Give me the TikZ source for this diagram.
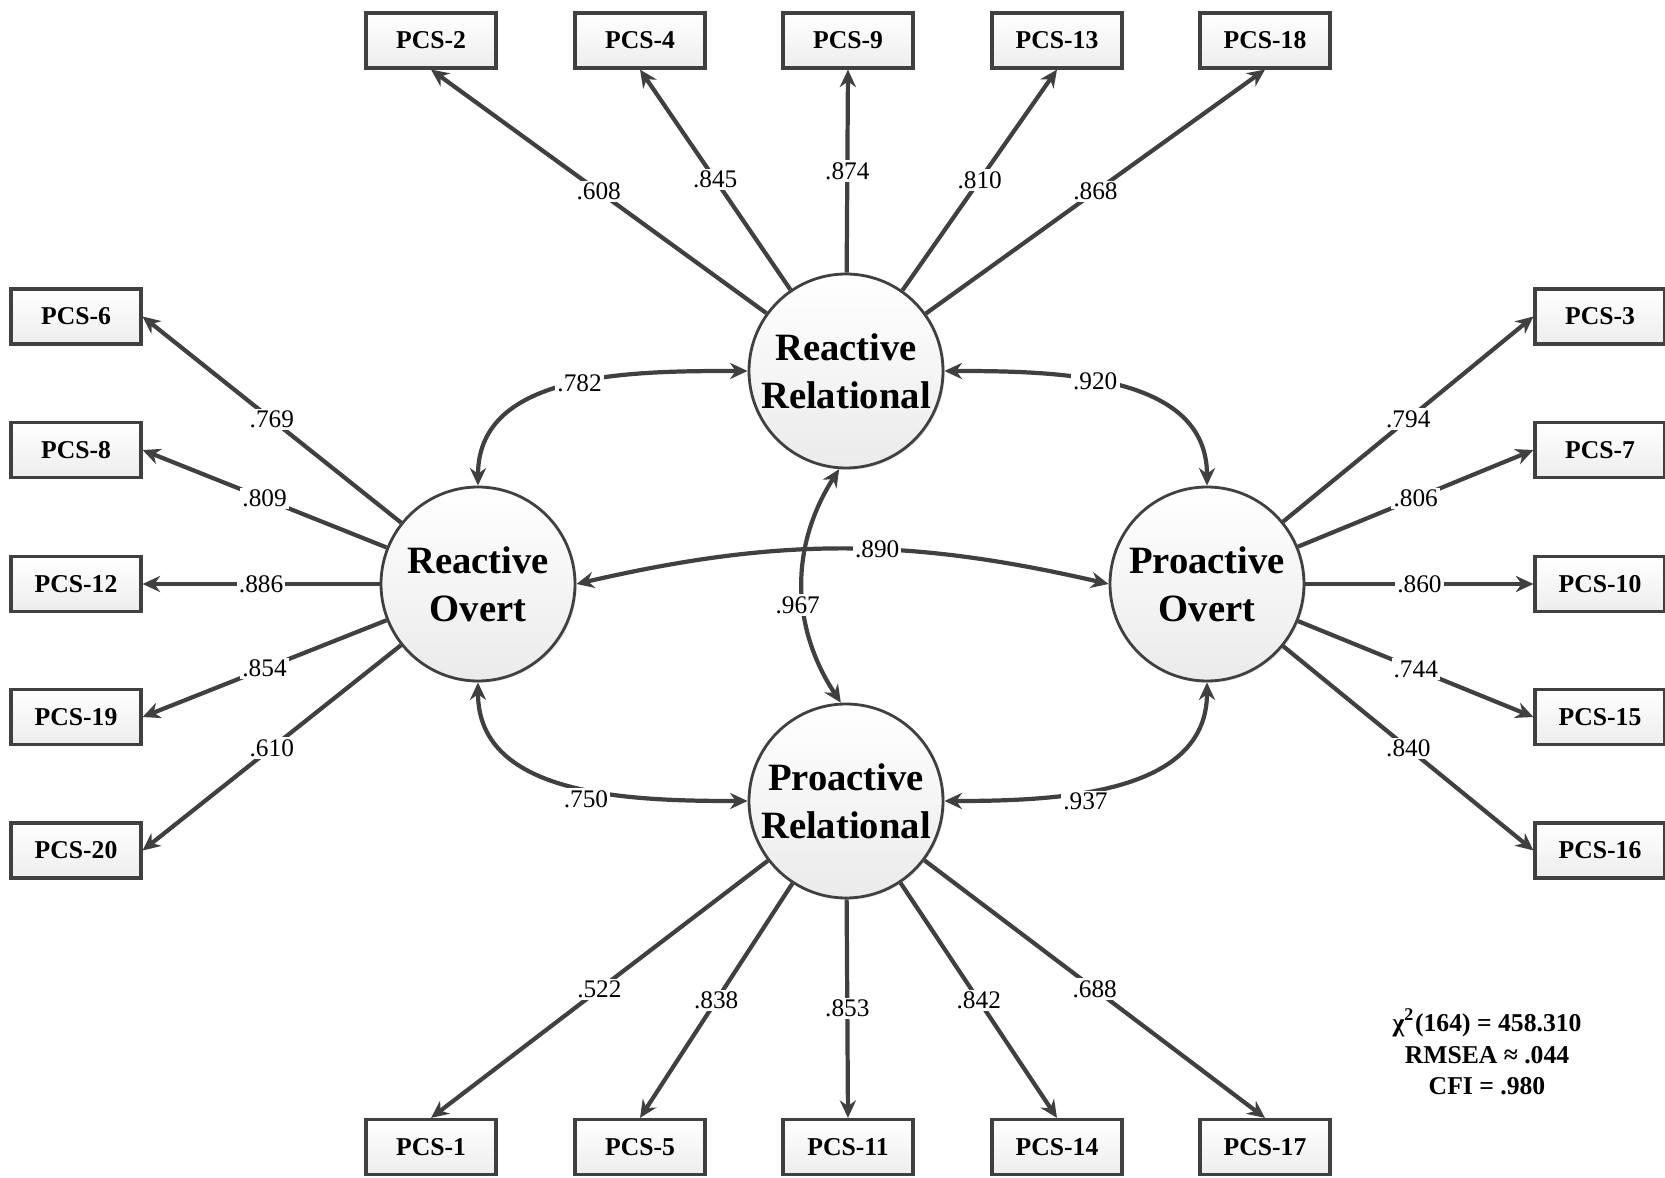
\documentclass[tikz,border=0pt]{standalone}
\usepackage{fontspec}
\setmainfont{Liberation Serif}
\usetikzlibrary{arrows.meta,shadows}
\definecolor{linegray}{HTML}{404040}

\begin{document}
\begin{tikzpicture}[
    item/.style={draw=linegray, line width=0.9pt, minimum width=1.3cm, minimum height=0.55cm,
        inner sep=0pt, top color=white, bottom color=gray!14,
        drop shadow={opacity=0.18, shadow xshift=0.5pt, shadow yshift=-0.5pt},
        font=\fontsize{7.3}{8}\selectfont\bfseries},
    factor/.style={circle, draw=linegray, line width=0.8pt, minimum size=1.94cm, inner sep=0pt,
        top color=white, bottom color=gray!16, align=center,
        drop shadow={opacity=0.18, shadow xshift=0.5pt, shadow yshift=-0.5pt},
        font=\fontsize{11}{13.6}\selectfont\bfseries},
    load/.style={draw=linegray, line width=1.2pt, -{Stealth[length=5pt,width=4.6pt]}},
    cov/.style={draw=linegray, line width=1.2pt, {Stealth[length=5pt,width=4.6pt]}-{Stealth[length=5pt,width=4.6pt]}},
    coef/.style={fill=white, inner sep=0.6pt, font=\fontsize{7.2}{8}\selectfont}]
    \useasboundingbox (0,0) rectangle (16.65,11.77);

    % --- Latent factors ---
    \node[factor] (rr) at (8.46, 8.06) {Reactive\\Relational};
    \node[factor] (ro) at (4.78, 5.93) {Reactive\\Overt};
    \node[factor] (po) at (12.07, 5.93) {Proactive\\Overt};
    \node[factor] (pr) at (8.46, 3.76) {Proactive\\Relational};

    % --- Indicators ---
    \foreach \n/\x in {2/4.31, 4/6.40, 9/8.48, 13/10.57, 18/12.65}
        \node[item] (p\n) at (\x, 11.365) {PCS-\n};
    \foreach \n/\x in {1/4.31, 5/6.40, 11/8.48, 14/10.57, 17/12.65}
        \node[item] (p\n) at (\x, 0.30) {PCS-\n};
    \foreach \n/\y in {6/8.605, 8/7.27, 12/5.93, 19/4.60, 20/3.265}
        \node[item] (p\n) at (0.76, \y) {PCS-\n};
    \foreach \n/\y in {3/8.605, 7/7.27, 10/5.93, 15/4.60, 16/3.265}
        \node[item] (p\n) at (16.0, \y) {PCS-\n};

    % Loadings
    \foreach \n/\v in {2/.608, 4/.845, 9/.874, 13/.810, 18/.868}
        \draw[load] (rr) -- node[coef] {\v} (p\n.south);
    \foreach \n/\v in {1/.522, 5/.838, 11/.853, 14/.842, 17/.688}
        \draw[load] (pr) -- node[coef] {\v} (p\n.north);
    \foreach \n/\v in {6/.769, 8/.809, 12/.886, 19/.854, 20/.610}
        \draw[load] (ro) -- node[coef] {\v} (p\n.east);
    \foreach \n/\v in {3/.794, 7/.806, 10/.860, 15/.744, 16/.840}
        \draw[load] (po) -- node[coef] {\v} (p\n.west);

    % Factor correlations
    \draw[cov] (ro) to[out=90, in=180] node[coef, pos=0.53] {.782} (rr);
    \draw[cov] (rr) to[out=0, in=90] node[coef, pos=0.43] {.920} (po);
    \draw[cov] (ro) to[out=-90, in=180] node[coef, pos=0.55, yshift=-0.1cm] {.750} (pr);
    \draw[cov] (pr) to[out=0, in=-90] node[coef, pos=0.4, yshift=-0.1cm] {.937} (po);
    \draw[cov] (ro.east) to[bend left=13] node[coef, pos=0.57] {.890} (po.west);
    \draw[cov] (rr.266) to[bend right=33] node[coef, pos=0.58, xshift=-0.06cm] {.967} (pr.93);

    % Fit indices
    \node[align=center, font=\fontsize{7.3}{9}\selectfont\bfseries] (fit) at (14.87, 1.25)
        {χ\textsuperscript{2}(164) = 458.310\\RMSEA ≈ .044\\CFI = .980};
\end{tikzpicture}
\end{document}
